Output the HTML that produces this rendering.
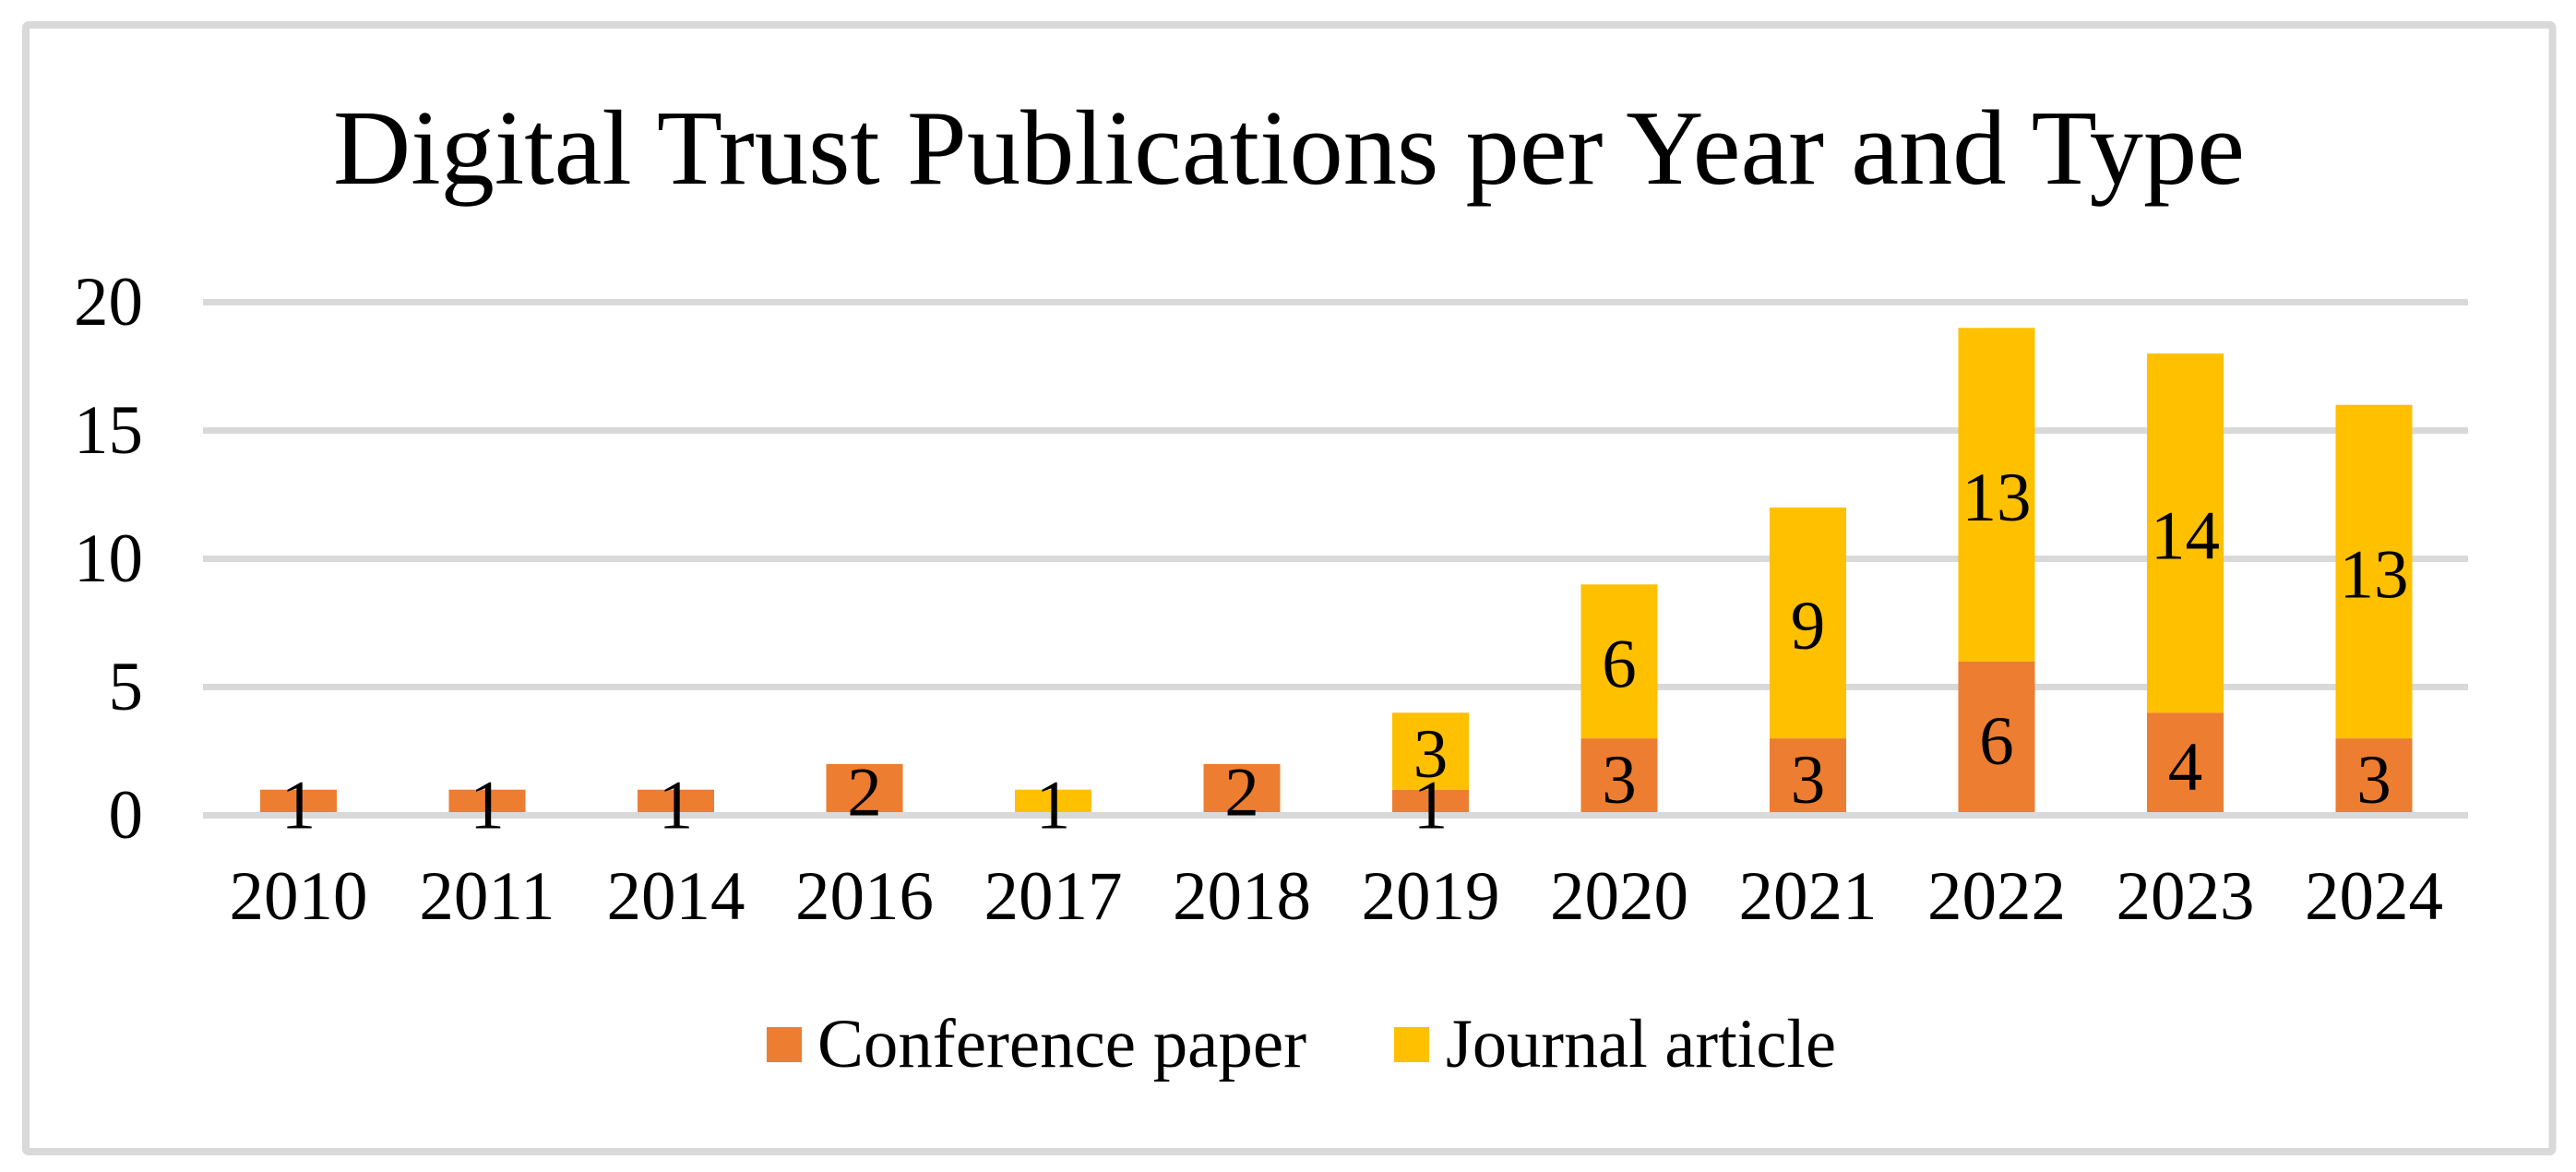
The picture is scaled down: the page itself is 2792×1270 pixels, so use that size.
<!DOCTYPE html>
<html lang="en">
<head>
<meta charset="utf-8">
<title>Digital Trust Publications per Year and Type</title>
<style>
html,body{margin:0;padding:0;background:#fff;width:2792px;height:1270px;overflow:hidden}
svg{display:block}
text{font-family:"Liberation Serif","Times New Roman",serif;fill:#000}
</style>
</head>
<body>
<svg id="chart" xmlns="http://www.w3.org/2000/svg" width="2792" height="1270" viewBox="0 0 2792 1270">
  <rect x="0" y="0" width="2792" height="1270" fill="#ffffff"/>
  <rect x="28" y="27" width="2738.5" height="1221" rx="3" ry="3" fill="#ffffff" stroke="#d9d9d9" stroke-width="8"/>
  <text x="361" y="199" font-size="116" textLength="2072" lengthAdjust="spacingAndGlyphs">Digital Trust Publications per Year and Type</text>
  <g id="grid"></g>
  <g id="bars"></g>
  <g id="axis"></g>
  <g id="yticks"></g>
  <g id="xticks"></g>
  <g id="labels"></g>
  <g>
    <g>
      <rect x="831" y="1113" width="38" height="38" fill="#ed7d31"/>
      <text x="886" y="1156" font-size="75" textLength="530" lengthAdjust="spacingAndGlyphs">Conference paper</text>
    </g>
    <g>
      <rect x="1511" y="1113" width="38" height="38" fill="#ffc000"/>
      <text x="1567" y="1156" font-size="75" textLength="423" lengthAdjust="spacingAndGlyphs">Journal article</text>
    </g>
  </g>
</svg>
<script>
const categories = ['2010','2011','2014','2016','2017','2018','2019','2020','2021','2022','2023','2024'];
const conferencePaper = [1,1,1,2,0,2,1,3,3,6,4,3];
const journalArticle = [0,0,0,0,1,0,3,6,9,13,14,13];
const yTickValues = [0,5,10,15,20];

const NS = 'http://www.w3.org/2000/svg';
const plotLeft = 220;
const plotRight = 2675;
const y0 = 883.5;
const unit = 27.8;
const barWidth = 83;
const xStep = 204.5;
const firstCenter = 323.5;
const gridThickness = 7;
const fontSize = 75;
const labelShift = 28;

function xScale(i){ return firstCenter + i * xStep; }
function yScale(v){ return y0 - v * unit; }

function makeRect(x, y, w, h, fill){
  const r = document.createElementNS(NS, 'rect');
  r.setAttribute('x', x);
  r.setAttribute('y', y);
  r.setAttribute('width', w);
  r.setAttribute('height', h);
  r.setAttribute('fill', fill);
  return r;
}
function makeText(x, y, str, anchor){
  const t = document.createElementNS(NS, 'text');
  t.setAttribute('x', x);
  t.setAttribute('y', y);
  t.setAttribute('font-size', fontSize);
  t.setAttribute('text-anchor', anchor);
  t.textContent = str;
  return t;
}

const gridG = document.getElementById('grid');
const axisG = document.getElementById('axis');
const yticksG = document.getElementById('yticks');
const xticksG = document.getElementById('xticks');
const barsG = document.getElementById('bars');
const labelsG = document.getElementById('labels');

yTickValues.forEach(function(v){
  const line = makeRect(plotLeft, yScale(v) - gridThickness / 2, plotRight - plotLeft, gridThickness, '#d9d9d9');
  
  
  (v === 0 ? axisG : gridG).appendChild(line);

  const tick = makeText(155, yScale(v) + 24.5, String(v), 'end');
  
  
  yticksG.appendChild(tick);
});

categories.forEach(function(cat, i){
  const cx = xScale(i);
  const conf = conferencePaper[i];
  const jour = journalArticle[i];

  const xLabel = makeText(cx, 996, cat, 'middle');
  
  
  xticksG.appendChild(xLabel);

  if (conf > 0) {
    const confBar = makeRect(cx - barWidth / 2, yScale(conf), barWidth, yScale(0) - yScale(conf), '#ed7d31');
    
    
    barsG.appendChild(confBar);

    const confLabel = makeText(cx, (yScale(0) + yScale(conf)) / 2 + labelShift, String(conf), 'middle');
    
    
    labelsG.appendChild(confLabel);
  }
  if (jour > 0) {
    const jourBar = makeRect(cx - barWidth / 2, yScale(conf + jour), barWidth, yScale(conf) - yScale(conf + jour), '#ffc000');
    
    
    barsG.appendChild(jourBar);

    const jourLabel = makeText(cx, (yScale(conf) + yScale(conf + jour)) / 2 + labelShift, String(jour), 'middle');
    
    
    labelsG.appendChild(jourLabel);
  }
});
</script>
</body>
</html>
